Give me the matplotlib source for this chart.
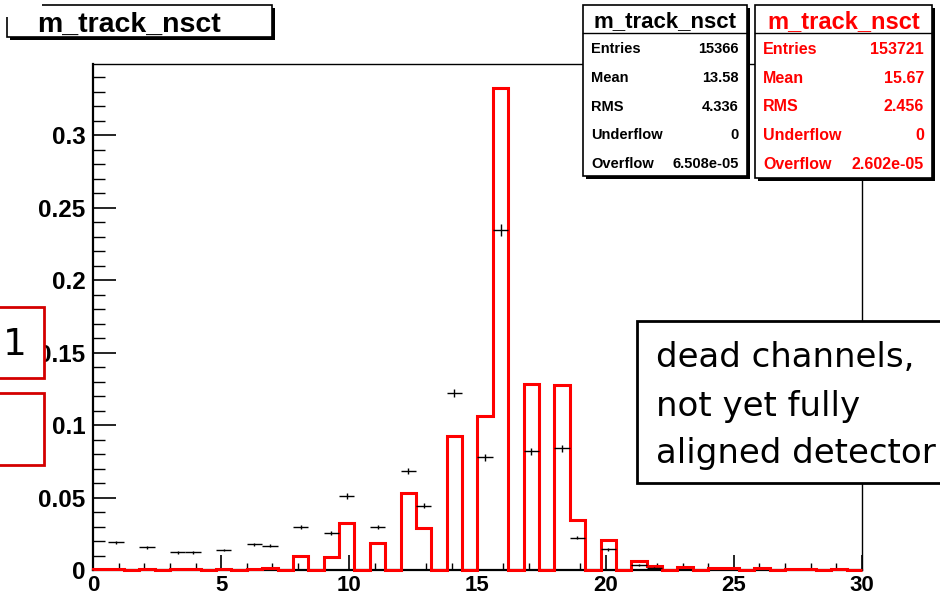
import numpy as np
import matplotlib
matplotlib.use('Agg')
import matplotlib.pyplot as plt
from matplotlib.patches import Rectangle
from matplotlib.ticker import MultipleLocator, FixedLocator

# ---------------- data ----------------
nsct = list(range(30))
data_frac = [0.0, 0.0190, 0.0157, 0.0122, 0.0122, 0.0138, 0.0177, 0.0168, 0.0297, 0.0253,
             0.0511, 0.0297, 0.0680, 0.0442, 0.1219, 0.0776, 0.2345, 0.0818, 0.0839, 0.0223,
             0.0143, 0.0035, 0.0015, 0.0, 0.0, 0.0, 0.0, 0.0, 0.0, 0.0]
ref_frac = [0.0005, 0.0008, 0.0008, 0.0008, 0.0008, 0.0008, 0.0008, 0.0015, 0.0094, 0.0088,
            0.0323, 0.0184, 0.0534, 0.0293, 0.0921, 0.1060, 0.3324, 0.1285, 0.1276, 0.0346,
            0.0210, 0.0065, 0.0028, 0.0018, 0.0012, 0.0012, 0.0012, 0.0010, 0.0010, 0.0010]
n_bins = 50
x_range = (0, 30)
data_entries = 15366
xtick_vals = [0, 5, 10, 15, 20, 25, 30]
xtick_labels = ['0', '5', '10', '15', '20', '25', '30']
ytick_vals = [0, 0.05, 0.1, 0.15, 0.2, 0.25, 0.3]
ytick_labels = ['0', '0.05', '0.1', '0.15', '0.2', '0.25', '0.3']
hist_title = 'm_track_nsct'
data_stats = [('Entries', '15366'), ('Mean', '13.58'), ('RMS', '4.336'),
              ('Underflow', '0'), ('Overflow', '6.508e-05')]
ref_stats = [('Entries', '153721'), ('Mean', '15.67'), ('RMS', '2.456'),
             ('Underflow', '0'), ('Overflow', '2.602e-05')]
note_lines = ['dead channels,', 'not yet fully', 'aligned detector']
side_label = '1'

# ---------------- histogramming ----------------
edges = np.linspace(x_range[0], x_range[1], n_bins + 1)
data_h, _ = np.histogram(nsct, bins=edges, weights=data_frac)
ref_h, _ = np.histogram(nsct, bins=edges, weights=ref_frac)
centers = 0.5 * (edges[:-1] + edges[1:])
half_w = 0.5 * (edges[1] - edges[0])
mask = data_h > 0

# ---------------- figure ----------------
W, H = 940, 596
fig = plt.figure(figsize=(W / 100, H / 100), dpi=100)
fig.patch.set_facecolor('white')
ax = fig.add_axes([93 / W, 1 - 570 / H, (862 - 93) / W, (570 - 64) / H])

ax.stairs(ref_h, edges, color='#ff0000', lw=2.2, baseline=0, zorder=3, clip_on=False)
ax.errorbar(centers[mask], data_h[mask], xerr=half_w,
            yerr=np.sqrt(data_h[mask] / data_entries),
            fmt='none', ecolor='black', elinewidth=1.0, capsize=0, zorder=4)

ax.set_xlim(*x_range)
ax.set_ylim(0, 0.349)
ax.xaxis.set_major_locator(FixedLocator(xtick_vals))
ax.set_xticklabels(xtick_labels)
ax.xaxis.set_minor_locator(MultipleLocator(1))
ax.yaxis.set_major_locator(FixedLocator(ytick_vals))
ax.set_yticklabels(ytick_labels)
ax.yaxis.set_minor_locator(MultipleLocator(0.01))
ax.tick_params(axis='x', which='major', direction='in', length=11, width=1.2, pad=3.5,
               top=False)
ax.tick_params(axis='x', which='minor', direction='in', length=5, width=1.0, top=False)
ax.tick_params(axis='y', which='major', direction='in', length=16.5, width=1.2, pad=5.5,
               right=False)
ax.tick_params(axis='y', which='minor', direction='in', length=8.5, width=1.0, right=False)
for lab in ax.get_xticklabels():
    lab.set_fontfamily('Liberation Sans')
    lab.set_fontweight('bold')
    lab.set_fontsize(16)
for lab in ax.get_yticklabels():
    lab.set_fontfamily('Liberation Sans')
    lab.set_fontweight('bold')
    lab.set_fontsize(17.5)
for s in ['top', 'right']:
    ax.spines[s].set_linewidth(1.0)
for s in ['left', 'bottom']:
    ax.spines[s].set_linewidth(1.6)

# ---------------- overlay (pixel coordinates) ----------------
ov = fig.add_axes([0, 0, 1, 1], zorder=10)
ov.set_xlim(0, W)
ov.set_ylim(H, 0)
ov.axis('off')
ov.patch.set_visible(False)


def box(x0, y0, x1, y1, ec='black', lw=1.2, shadow=3, fc='white'):
    if shadow:
        ov.add_patch(Rectangle((x0 + shadow, y0 + shadow), x1 - x0, y1 - y0,
                               fc='black', ec='none'))
    ov.add_patch(Rectangle((x0, y0), x1 - x0, y1 - y0, fc=fc, ec=ec, lw=lw))


# title box
box(7, 5, 272, 37, lw=1.2, shadow=3)
ov.add_patch(Rectangle((0, 0), 42, 17, fc='white', ec='none'))
ov.text(37, 32, hist_title, fontfamily='Liberation Sans', fontweight='bold',
        fontsize=20.5, va='baseline', ha='left', color='black')


def stats_box(x0, x1, y1, title, rows, color, tsize, rsize, header_base, row_bases, pad):
    box(x0, 5, x1, y1, lw=1.2, shadow=3)
    ov.plot([x0, x1], [33, 33], color='black', lw=1.0)
    ov.text(0.5 * (x0 + x1), header_base, title, fontfamily='Liberation Sans',
            fontweight='bold', fontsize=tsize, ha='center', va='baseline', color=color)
    for (k, v), yb in zip(rows, row_bases):
        ov.text(x0 + pad, yb, k, fontfamily='Liberation Sans', fontweight='bold',
                fontsize=rsize, ha='left', va='baseline', color=color)
        ov.text(x1 - pad, yb, v, fontfamily='Liberation Sans', fontweight='bold',
                fontsize=rsize, ha='right', va='baseline', color=color)


stats_box(583, 747, 176, hist_title, data_stats, 'black', 16, 10.5, 27,
          [53, 82, 111, 139, 168], 8)
stats_box(755, 932, 178, hist_title, ref_stats, '#ff0000', 17, 11.5, 28,
          [54, 83, 111, 140, 169], 8)

# annotation box on the right
box(637, 321, 960, 483, lw=2.0, shadow=0)
for line, yb in zip(note_lines, [367, 416, 463]):
    ov.text(656, yb, line, fontfamily='DejaVu Sans', fontsize=24.5, ha='left',
            va='baseline', color='black')

# side boxes on the left
box(-5, 307, 44, 378, ec='#d40000', lw=2.0, shadow=0)
box(-5, 393, 44, 465, ec='#d40000', lw=2.0, shadow=0)
ov.text(3, 355, side_label, fontfamily='DejaVu Sans', fontsize=27, ha='left',
        va='baseline', color='black')

fig.savefig('out.png', dpi=100)
